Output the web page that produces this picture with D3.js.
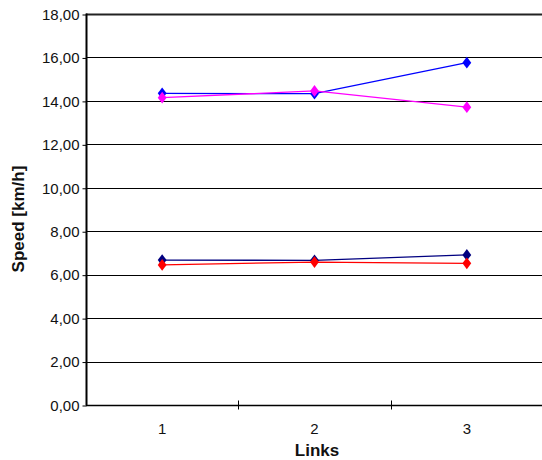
<!DOCTYPE html>
<html><head><meta charset="utf-8">
<script src="https://cdn.jsdelivr.net/npm/d3@7"></script>
<style>body{margin:0;background:#fff}svg{display:block}text{font-family:"Liberation Sans",Arial,sans-serif}</style>
</head><body>
<script>
const categories = ["1", "2", "3"];
const seriesBlue = [14.35, 14.33, 15.76];
const seriesMagenta = [14.15, 14.46, 13.71];
const seriesNavy = [6.67, 6.66, 6.91];
const seriesRed = [6.45, 6.58, 6.52];
const yTicks = [0, 2, 4, 6, 8, 10, 12, 14, 16, 18];
const series = [
  {values: seriesNavy, color: "#000080"},
  {values: seriesRed, color: "#FF0000"},
  {values: seriesBlue, color: "#0000FF"},
  {values: seriesMagenta, color: "#FF00FF"}
];
const W = 542, H = 460;
const svg = d3.select("body").append("svg").attr("width", W).attr("height", H);
const x = d3.scaleBand().domain(categories).range([86, 543]);
const y = d3.scaleLinear().domain([0, 18]).range([405, 14]);
// gridlines
svg.append("g").selectAll("line").data(yTicks.filter(d => d > 0)).join("line")
  .attr("x1", 86).attr("x2", 543)
  .attr("y1", d => Math.round(y(d)) + 0.5).attr("y2", d => Math.round(y(d)) + 0.5)
  .attr("stroke", d => d === 18 ? "#222" : "#000")
  .attr("stroke-width", d => d === 18 ? 2 : 1);
// y axis
const yAxis = d3.axisLeft(y).tickValues(yTicks).tickSize(4).tickFormat(d => d3.format(".2f")(d).replace(".", ","));
const gy = svg.append("g").attr("transform", "translate(86.5,0.5)").call(yAxis);
gy.select(".domain").attr("stroke", "#000").attr("stroke-width", 2).attr("d", "M0,13V405");
gy.selectAll(".tick line").attr("stroke", "#000");
gy.selectAll(".tick text").attr("font-size", 15).attr("fill", "#111").attr("x", -7);
// x axis
const gx = svg.append("g").attr("transform", "translate(0,405.5)");
gx.append("line").attr("x1", 86).attr("x2", 543).attr("stroke", "#000").attr("stroke-width", 1.5);
const bounds = categories.map(c => x(c)).concat([x(categories[categories.length-1]) + x.bandwidth()]);
gx.selectAll("line.tk").data(bounds.slice(1)).join("line").attr("class", "tk")
  .attr("x1", d => Math.round(d) + 0.5).attr("x2", d => Math.round(d) + 0.5).attr("y1", -5).attr("y2", 4)
  .attr("stroke", "#000");
gx.selectAll("text").data(categories).join("text")
  .attr("x", d => x(d) + x.bandwidth() / 2).attr("y", 28)
  .attr("text-anchor", "middle").attr("font-size", 15).attr("fill", "#111").text(d => d);
// lines
const line = d3.line().x((d, i) => x(categories[i]) + x.bandwidth() / 2).y(d => y(d));
series.forEach(s => {
  svg.append("path").datum(s.values).attr("d", line).attr("fill", "none")
    .attr("stroke", s.color).attr("stroke-width", 1.3);
  svg.append("g").selectAll("path").data(s.values).join("path")
    .attr("d", d3.symbol(d3.symbolDiamond, 40))
    .attr("transform", (d, i) => `translate(${x(categories[i]) + x.bandwidth() / 2},${y(d)}) scale(1.3,1)`)
    .attr("fill", s.color);
});
// titles
svg.append("text").attr("x", 317).attr("y", 456).attr("text-anchor", "middle")
  .attr("font-size", 17).attr("font-weight", "bold").attr("fill", "#111").text("Links");
svg.append("text").attr("transform", "translate(24,219) rotate(-90)").attr("text-anchor", "middle")
  .attr("font-size", 17).attr("font-weight", "bold").attr("fill", "#111").text("Speed [km/h]");
</script>
</body></html>
